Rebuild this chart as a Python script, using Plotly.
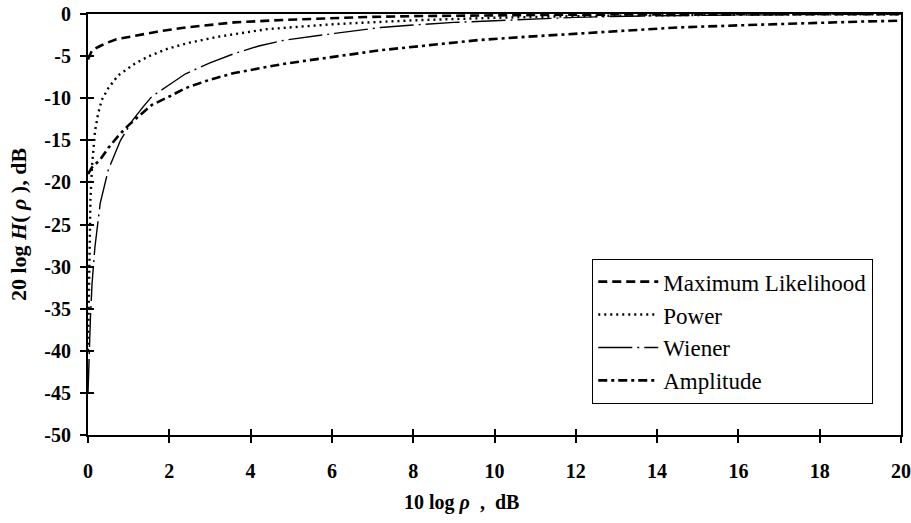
import plotly.graph_objects as go

# x-axis: 10 log rho (dB); y-axis: 20 log H(rho) (dB)
ml_x = [0, 0.05, 0.1, 0.3, 0.42, 0.7, 1.15, 1.7, 2.4, 3.0, 3.6, 4.84, 6.0, 6.9, 8.0, 9.0, 10.5, 12.0, 14.0, 16.0, 18.0, 20.0]
ml_y = [-5.4, -4.8, -4.3, -3.8, -3.5, -3.0, -2.6, -2.1, -1.6, -1.3, -1.0, -0.7, -0.5, -0.35, -0.25, -0.2, -0.12, -0.08, -0.05, -0.03, -0.02, -0.01]

pw_x = [0, 0.03, 0.06, 0.1, 0.17, 0.25, 0.34, 0.5, 0.74, 1.15, 1.5, 1.97, 2.5, 3.2, 4.4, 6.07, 7.2, 8.0, 9.0, 10.0, 12.0, 14.0, 16.0, 18.0, 20.0]
pw_y = [-40, -28, -22, -18, -14, -11.8, -10.2, -8.8, -7.3, -5.9, -5.0, -4.1, -3.4, -2.7, -1.8, -1.2, -0.9, -0.75, -0.6, -0.45, -0.25, -0.12, -0.07, -0.04, -0.02]

wi_x = [0, 0.03, 0.06, 0.1, 0.17, 0.3, 0.5, 0.8, 1.1, 1.36, 1.57, 2.0, 2.4, 3.0, 3.6, 4.2, 4.84, 6.07, 7.2, 8.0, 9.0, 10.0, 11.0, 12.0, 14.0, 16.0, 18.0, 20.0]
wi_y = [-45, -40, -36, -32, -27.7, -22.5, -18.5, -15.0, -12.6, -11.0, -9.8, -8.4, -7.1, -5.8, -4.7, -3.8, -3.1, -2.3, -1.6, -1.3, -1.0, -0.8, -0.6, -0.4, -0.2, -0.1, -0.05, -0.02]

am_x = [0, 0.1, 0.3, 0.5, 0.74, 1.0, 1.28, 1.57, 2.0, 2.4, 3.0, 3.6, 4.84, 6.07, 7.2, 8.4, 9.6, 10.8, 12.1, 13.3, 14.5, 16.0, 17.5, 19.0, 20.0]
am_y = [-19.0, -18.2, -17.3, -15.9, -14.5, -13.2, -12.0, -10.8, -9.8, -8.8, -7.8, -7.0, -5.9, -5.1, -4.3, -3.7, -3.1, -2.7, -2.3, -1.9, -1.6, -1.35, -1.1, -0.9, -0.8]

x_ticks = list(range(0, 21, 2))
y_ticks = list(range(-50, 1, 5))
x_ticktext = [f"<b>{v}</b>" for v in x_ticks]
y_ticktext = [f"<b>{v}</b>" for v in y_ticks]

names = ["Maximum Likelihood", "Power", "Wiener", "Amplitude"]

SERIF = "Liberation Serif, Times New Roman, serif"

fig = go.Figure()
fig.add_trace(go.Scatter(x=ml_x, y=ml_y, mode="lines", name=names[0],
                         line=dict(color="black", width=2.6, dash="9px,5px")))
fig.add_trace(go.Scatter(x=pw_x, y=pw_y, mode="lines", name=names[1],
                         line=dict(color="black", width=2.4, dash="2px,4px")))
fig.add_trace(go.Scatter(x=wi_x, y=wi_y, mode="lines", name=names[2],
                         line=dict(color="black", width=1.4, dash="34px,5px,2px,5px")))
fig.add_trace(go.Scatter(x=am_x, y=am_y, mode="lines", name=names[3],
                         line=dict(color="black", width=2.6, dash="9px,4px,3px,4px")))

axis_common = dict(showline=True, linecolor="black", linewidth=2, mirror=True,
                   showgrid=False, zeroline=False, ticks="outside", ticklen=6,
                   tickwidth=1.5, tickcolor="black", automargin=False,
                   tickfont=dict(family=SERIF, size=20, color="black"))

fig.update_layout(
    width=911, height=523,
    margin=dict(l=88, r=10, t=14, b=88),
    paper_bgcolor="white", plot_bgcolor="white",
    font=dict(family=SERIF, color="black"),
    xaxis=dict(range=[0, 20], tickvals=x_ticks, ticktext=x_ticktext,
               ticklabelstandoff=11, **axis_common),
    yaxis=dict(range=[-50, 0], tickvals=y_ticks, ticktext=y_ticktext,
               ticklabelstandoff=5,
               title=dict(text="<b>20 log <i>H</i>( <i>ρ</i> ), dB</b>",
                          font=dict(family=SERIF, size=22, color="black"), standoff=12),
               **axis_common),
    xaxis2=dict(range=[0, 20], tickvals=x_ticks, overlaying="x", anchor="y",
                side="bottom", ticks="inside", ticklen=6, tickwidth=1.5,
                tickcolor="black", showticklabels=False, showgrid=False,
                zeroline=False, showline=False),
    yaxis2=dict(range=[-50, 0], tickvals=y_ticks, overlaying="y", anchor="x",
                side="left", ticks="inside", ticklen=6, tickwidth=1.5,
                tickcolor="black", showticklabels=False, showgrid=False,
                zeroline=False, showline=False),
    legend=dict(x=0.62, y=0.418, xanchor="left", yanchor="top",
                bgcolor="white", bordercolor="black", borderwidth=1.2,
                font=dict(family=SERIF, size=23, color="black"),
                tracegroupgap=1, itemwidth=60),
    annotations=[dict(text="<b>10 log <i>ρ</i>  ,  dB</b>", x=0.46, y=-0.16,
                      xref="paper", yref="paper", xanchor="center", yanchor="middle",
                      showarrow=False, font=dict(family=SERIF, size=20, color="black"))],
    showlegend=True,
)
fig.add_trace(go.Scatter(x=[None], y=[None], xaxis="x2", yaxis="y2", showlegend=False))

fig.write_html("out.html")
